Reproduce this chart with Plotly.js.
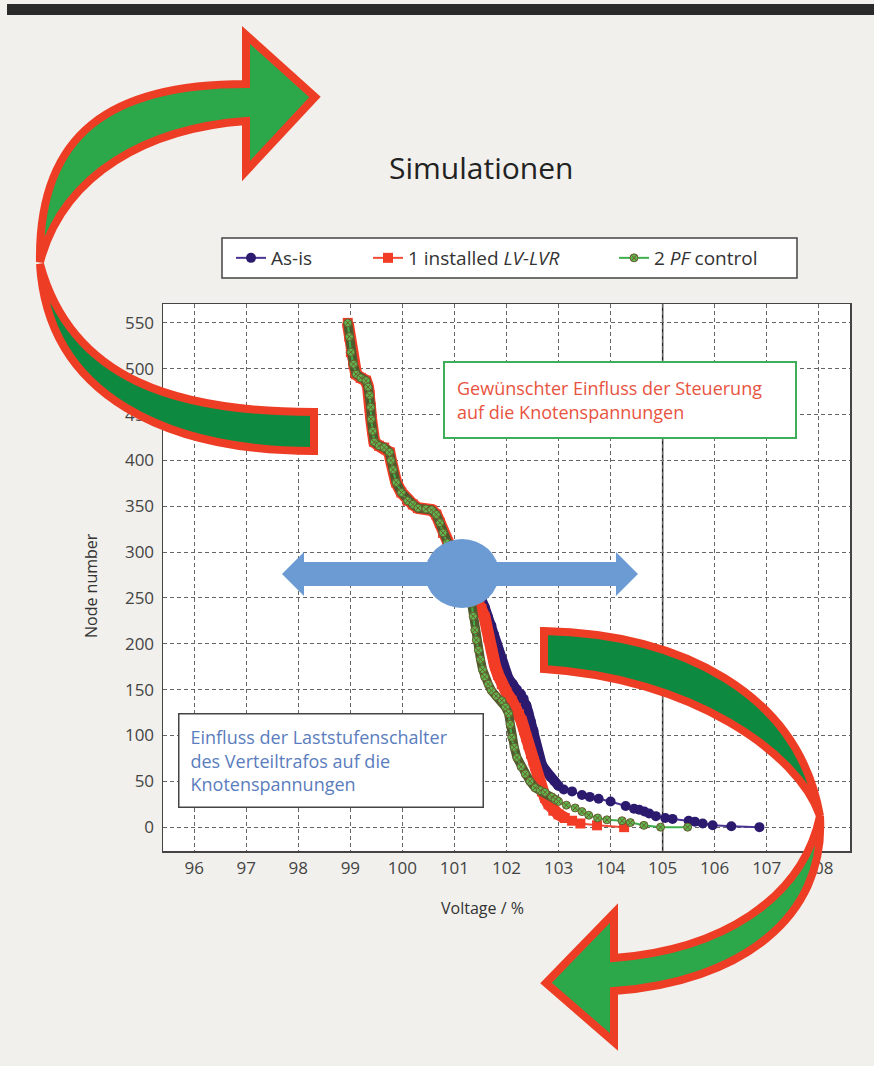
<!DOCTYPE html>
<html>
<head>
<meta charset="utf-8">
<script src="https://cdn.plot.ly/plotly-3.0.1.min.js"></script>
<style>html,body{margin:0;padding:0;background:#f1f0ec;}#chart{width:874px;height:1066px;}</style>
</head>
<body>
<div id="chart"></div>
<script>
// ---- data (voltage %, node number) ----
const upperVoltage = [98.95, 98.98, 99.01, 99.06, 99.11, 99.2, 99.3, 99.34, 99.37, 99.39, 99.4, 99.43, 99.46, 99.55, 99.65, 99.75, 99.78, 99.82, 99.88, 99.98, 100.1, 100.2, 100.3, 100.45, 100.56, 100.65, 100.72, 100.78, 100.86, 100.95, 101.05, 101.15, 101.25];
const upperNodes   = [550, 535, 518, 505, 494, 490, 487, 480, 471, 458, 445, 432, 420, 416, 414, 409, 400, 390, 376, 365, 356, 352, 348, 347, 346, 341, 332, 321, 310, 298, 285, 272, 262];

const asisVoltageLow = [101.4, 101.52, 101.58, 101.64, 101.71, 101.76, 101.81, 101.86, 101.91, 101.97, 102.04, 102.12, 102.2, 102.28, 102.33, 102.38, 102.42, 102.47, 102.52, 102.55, 102.58, 102.62, 102.68, 102.75, 102.84, 102.92, 103.0, 103.1, 103.26, 103.45, 103.6, 103.77, 104.0, 104.29, 104.45, 104.55, 104.65, 104.74, 104.87, 105.05, 105.19, 105.5, 105.62, 105.77, 105.96, 106.32, 106.86];
const asisNodesLow   = [255, 248, 240, 230, 220, 210, 200, 190, 180, 170, 162, 156, 150, 145, 140, 133, 125, 115, 105, 95, 85, 76, 68, 62, 55, 50, 45, 41, 39, 35, 33, 31, 28, 23, 20, 19, 17, 15, 12, 10, 9, 7, 6, 4, 2, 1, 0];

const lvrVoltageLow = [101.4, 101.46, 101.52, 101.58, 101.62, 101.65, 101.7, 101.74, 101.78, 101.84, 101.91, 102.0, 102.1, 102.18, 102.24, 102.29, 102.34, 102.38, 102.42, 102.47, 102.52, 102.55, 102.6, 102.64, 102.68, 102.74, 102.81, 102.9, 103.0, 103.12, 103.26, 103.42, 103.74, 104.26];
const lvrNodesLow   = [252, 245, 238, 229, 218, 207, 195, 185, 176, 166, 156, 147, 138, 130, 123, 116, 106, 98, 90, 80, 72, 67, 55, 47, 39, 32, 25, 18, 14, 10, 7, 4, 2, 0];

const pfVoltageLow = [101.3, 101.33, 101.36, 101.39, 101.42, 101.46, 101.5, 101.54, 101.58, 101.65, 101.71, 101.8, 101.91, 101.98, 102.04, 102.07, 102.1, 102.15, 102.2, 102.28, 102.36, 102.45, 102.55, 102.65, 102.74, 102.87, 102.94, 103.0, 103.15, 103.32, 103.45, 103.58, 103.75, 103.93, 104.22, 104.38, 104.64, 104.96, 105.48];
const pfNodesLow   = [252, 244, 230, 215, 204, 193, 183, 172, 164, 156, 149, 143, 138, 131, 124, 112, 98, 87, 76, 66, 58, 50, 43, 40, 38, 33, 30, 28, 24, 21, 17, 13, 10, 8, 7, 5, 2, 0, 0];

const seriesNames = ['As-is', '1 installed <i>LV-LVR</i>', '2 <i>PF</i> control'];
const xTicks = [96, 97, 98, 99, 100, 101, 102, 103, 104, 105, 106, 107, 108];
const yTicks = [0, 50, 100, 150, 200, 250, 300, 350, 400, 450, 500, 550];

// ---- pixel -> paper helpers for decorations ----
const L = 163, R = 850, T = 304, B = 851;
const W = R - L, H = B - T;
const fx = x => (x - L) / W, fy = y => (B - y) / H;
function pp(x, y) { return fx(x).toFixed(5) + ',' + fy(y).toFixed(5); }
function path(cmds) {
  return cmds.map(c => c[0] + ' ' + c.slice(1).map(p => pp(p[0], p[1])).join(' ')).join(' ') + ' Z';
}

const asisX = upperVoltage.concat(asisVoltageLow), asisY = upperNodes.concat(asisNodesLow);
const lvrX = upperVoltage.concat(lvrVoltageLow),  lvrY = upperNodes.concat(lvrNodesLow);
const pfX = upperVoltage.concat(pfVoltageLow),    pfY = upperNodes.concat(pfNodesLow);

// dense part of each curve (where the markers overlap into a solid band)
function dense(xs, ys, minN) {
  const bx = [], by = [];
  xs.forEach((v, i) => { if (ys[i] >= minN) { bx.push(v); by.push(ys[i]); } });
  return {x: bx, y: by};
}
const asisBand = dense(asisX, asisY, 42), lvrBand = dense(lvrX, lvrY, 10), pfBand = dense(pfX, pfY, 28);

const traces = [
  {x: asisBand.x, y: asisBand.y, type: 'scatter', mode: 'lines', showlegend: false, hoverinfo: 'skip',
   line: {color: '#2c1a6e', width: 10}},
  {x: asisX, y: asisY, name: seriesNames[0], legend: 'legend', type: 'scatter', mode: 'lines+markers',
   line: {color: '#4a3392', width: 2}, marker: {symbol: 'circle', size: 10, color: '#2c1a6e'}},
  {x: lvrBand.x, y: lvrBand.y, type: 'scatter', mode: 'lines', showlegend: false, hoverinfo: 'skip',
   line: {color: '#f23c26', width: 12}},
  {x: lvrX, y: lvrY, name: seriesNames[1], legend: 'legend2', type: 'scatter', mode: 'lines+markers',
   line: {color: '#f24a33', width: 2}, marker: {symbol: 'square', size: 10, color: '#f23c26'}},
  {x: pfBand.x, y: pfBand.y, type: 'scatter', mode: 'lines', showlegend: false, hoverinfo: 'skip',
   line: {color: '#4f5a2c', width: 9}},
  {x: pfX, y: pfY, name: seriesNames[2], legend: 'legend3', type: 'scatter', mode: 'lines+markers',
   line: {color: '#3fae4c', width: 2},
   marker: {symbol: 'circle-x', size: 8, color: '#5fb84e', line: {color: '#6a5a30', width: 1}}}
];

const darkGreen = '#0e8a40', lightGreen = '#2ca84b', red = '#ee3d25', blue = '#6b9bd2';

const shapes = [
  // top bar of the page
  {type: 'rect', xref: 'paper', yref: 'paper', x0: fx(7), x1: fx(874), y0: fy(4), y1: fy(15),
   fillcolor: '#2a2a2a', line: {width: 0}, layer: 'below'},
  // legend frame
  {type: 'rect', xref: 'paper', yref: 'paper', x0: fx(222), x1: fx(797), y0: fy(238), y1: fy(278),
   fillcolor: '#ffffff', line: {color: '#444', width: 1.5}, layer: 'below'},
  // solid vertical line at 105 %
  {type: 'line', xref: 'x', yref: 'paper', x0: 105, x1: 105, y0: 0, y1: 1, line: {color: '#222', width: 1.5}, layer: 'below'},
  // upper-left arrow: tail band (dark)
  {type: 'path', xref: 'paper', yref: 'paper', layer: 'above', fillcolor: darkGreen, line: {color: red, width: 8},
   path: path([['M', [314, 412]], ['C', [180, 412], [72, 382], [40, 264]], ['C', [48, 398], [170, 451], [314, 451]]])},
  // upper-left arrow: head part (light)
  {type: 'path', xref: 'paper', yref: 'paper', layer: 'above', fillcolor: lightGreen, line: {color: red, width: 8},
   path: path([['M', [40, 262]], ['C', [38, 132], [112, 84], [246, 84]], ['L', [246, 35]], ['L', [315, 97]], ['L', [246, 171]],
               ['L', [246, 121]], ['C', [150, 128], [64, 172], [40, 262]]])},
  // lower-right arrow: tail band (dark)
  {type: 'path', xref: 'paper', yref: 'paper', layer: 'above', fillcolor: darkGreen, line: {color: red, width: 8},
   path: path([['M', [544, 631]], ['C', [680, 634], [798, 692], [820, 816]], ['C', [798, 752], [690, 678], [544, 669]]])},
  // lower-right arrow: head part (light)
  {type: 'path', xref: 'paper', yref: 'paper', layer: 'above', fillcolor: lightGreen, line: {color: red, width: 8},
   path: path([['M', [820, 816]], ['C', [826, 918], [740, 982], [614, 991]], ['L', [614, 1042]], ['L', [546, 983]], ['L', [614, 913]],
               ['L', [614, 958]], ['C', [720, 950], [802, 900], [820, 816]]])},
  // blue double arrow
  {type: 'path', xref: 'paper', yref: 'paper', layer: 'above', fillcolor: blue, line: {width: 0},
   path: path([['M', [282, 574]], ['L', [304, 552]], ['L', [304, 562]], ['L', [616, 562]], ['L', [616, 552]], ['L', [638, 574]],
               ['L', [616, 596]], ['L', [616, 586]], ['L', [304, 586]], ['L', [304, 596]]])},
  {type: 'circle', xref: 'paper', yref: 'paper', layer: 'above', fillcolor: blue, line: {width: 0},
   x0: fx(425), x1: fx(499), y0: fy(539), y1: fy(608)}
];

const FONT = '"Open Sans", Lato, sans-serif';

const annotations = [
  {xref: 'paper', yref: 'paper', x: fx(481), y: fy(167), xanchor: 'center', yanchor: 'middle',
   text: 'Simulationen', showarrow: false, font: {family: FONT, size: 30, color: '#222'}},
  {xref: 'paper', yref: 'paper', x: fx(482), y: fy(908), xanchor: 'center', yanchor: 'middle',
   text: 'Voltage / %', showarrow: false, font: {family: FONT, size: 16, color: '#333'}},
  {xref: 'paper', yref: 'paper', x: fx(91), y: fy(586), xanchor: 'center', yanchor: 'middle', textangle: -90,
   text: 'Node number', showarrow: false, font: {family: FONT, size: 16, color: '#333'}},
  {xref: 'paper', yref: 'paper', x: fx(443), y: fy(361), xanchor: 'left', yanchor: 'top',
   text: 'Gewünschter Einfluss der Steuerung<br>auf die Knotenspannungen', showarrow: false, align: 'left', valign: 'middle',
   width: 326, height: 50, borderpad: 12, bordercolor: '#3fae5a', borderwidth: 2, bgcolor: '#ffffff',
   font: {family: FONT, size: 18, color: '#e8543f'}},
  {xref: 'paper', yref: 'paper', x: fx(178), y: fy(713), xanchor: 'left', yanchor: 'top',
   text: 'Einfluss der Laststufenschalter<br>des Verteiltrafos auf die<br>Knotenspannungen', showarrow: false, align: 'left', valign: 'middle',
   width: 281, height: 70, borderpad: 11, bordercolor: '#444', borderwidth: 1.5, bgcolor: '#ffffff',
   font: {family: FONT, size: 18, color: '#5a7dbd'}}
];

const legendBase = {orientation: 'h', yanchor: 'middle', xanchor: 'left', y: fy(258),
                    bgcolor: 'rgba(0,0,0,0)', borderwidth: 0,
                    font: {family: FONT, size: 19, color: '#333'}};

const layout = {
  width: 874, height: 1066,
  paper_bgcolor: '#f1f0ec', plot_bgcolor: '#ffffff',
  margin: {l: L, r: 874 - R, t: T, b: 1066 - B, pad: 0},
  font: {family: FONT, color: '#444'},
  showlegend: true,
  legend:  Object.assign({}, legendBase, {x: fx(231)}),
  legend2: Object.assign({}, legendBase, {x: fx(368)}),
  legend3: Object.assign({}, legendBase, {x: fx(614)}),
  xaxis: {range: [95.4, 108.6], tickmode: 'array', tickvals: xTicks, ticktext: xTicks.map(String),
          showgrid: true, gridcolor: '#666', griddash: '4px,3px', gridwidth: 1, zeroline: false,
          showline: true, mirror: true, linecolor: '#444', linewidth: 1.5, ticks: '',
          tickfont: {family: FONT, size: 17, color: '#444'}, ticklabelstandoff: 1},
  yaxis: {range: [-26, 570.6], tickmode: 'array', tickvals: yTicks, ticktext: yTicks.map(String),
          showgrid: true, gridcolor: '#666', griddash: '4px,3px', gridwidth: 1, zeroline: false,
          showline: true, mirror: true, linecolor: '#444', linewidth: 1.5, ticks: '',
          tickfont: {family: FONT, size: 17, color: '#444'}, ticklabelstandoff: 4},
  shapes: shapes,
  annotations: annotations
};

Plotly.newPlot('chart', traces, layout, {displayModeBar: false, staticPlot: true});
</script>
</body>
</html>
